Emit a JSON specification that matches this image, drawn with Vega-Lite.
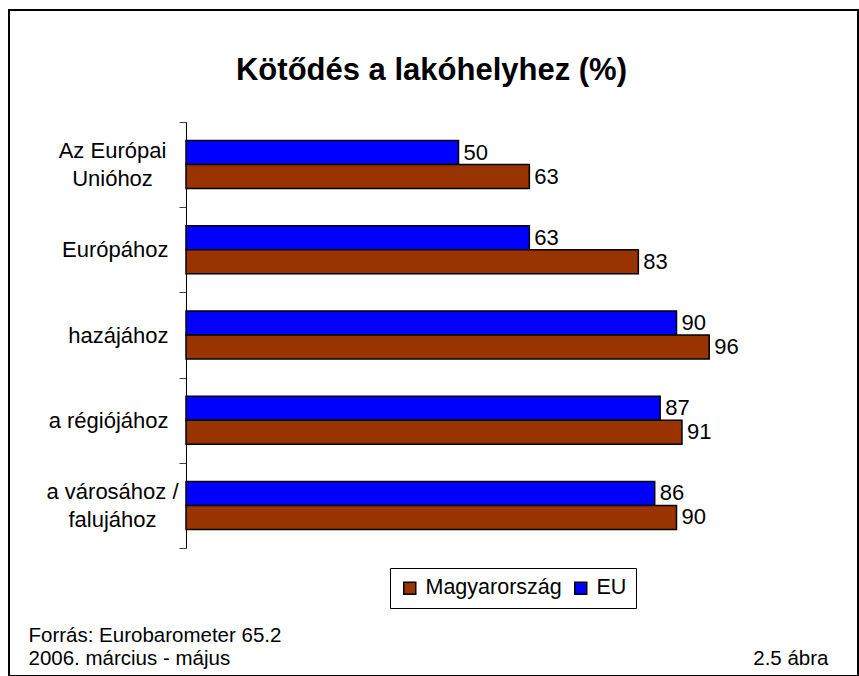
{
  "$schema": "https://vega.github.io/schema/vega-lite/v6.json",
  "width": 849,
  "height": 666,
  "autosize": "none",
  "padding": {"left": 9, "top": 10, "right": 1, "bottom": 0},
  "background": "white",
  "config": {
    "font": "Liberation Sans",
    "view": {"stroke": "black", "strokeWidth": 2}
  },
  "title": {
    "text": "Kötődés a lakóhelyhez (%)",
    "fontSize": 31,
    "fontWeight": "bold",
    "color": "black",
    "anchor": "middle",
    "frame": "group",
    "baseline": "alphabetic",
    "offset": 0,
    "dx": -2,
    "dy": 112
  },
  "data": {
    "values": [
      {"cat": "Az Európai|Unióhoz", "series": "EU", "value": 50},
      {"cat": "Az Európai|Unióhoz", "series": "Magyarország", "value": 63},
      {"cat": "Európához", "series": "EU", "value": 63},
      {"cat": "Európához", "series": "Magyarország", "value": 83},
      {"cat": "hazájához", "series": "EU", "value": 90},
      {"cat": "hazájához", "series": "Magyarország", "value": 96},
      {"cat": "a régiójához", "series": "EU", "value": 87},
      {"cat": "a régiójához", "series": "Magyarország", "value": 91},
      {"cat": "a városához /|falujához", "series": "EU", "value": 86},
      {"cat": "a városához /|falujához", "series": "Magyarország", "value": 90}
    ]
  },
  "encoding": {
    "y": {
      "field": "cat",
      "type": "nominal",
      "sort": ["Az Európai|Unióhoz", "Európához", "hazájához", "a régiójához", "a városához /|falujához"],
      "scale": {"range": [112, 538], "paddingInner": 0, "paddingOuter": 0},
      "axis": {
        "offset": -177,
        "tickBand": "extent",
        "tickSize": 7,
        "tickColor": "#404040",
        "domainColor": "black",
        "labelFontSize": 22,
        "labelColor": "black",
        "labelLineHeight": 28,
        "labelBaseline": "middle",
        "labelExpr": "isString(datum.value) ? split(datum.value, '|') : ''",
        "labelAlign": {"condition": {"test": "isString(datum.value) && indexof(datum.value, '|') >= 0", "value": "center"}, "value": "right"},
        "labelPadding": {"condition": {"test": "isString(datum.value) && indexof(datum.value, '|') >= 0", "value": 67}, "value": 11},
        "labelOffset": {"condition": {"test": "isString(datum.value) && indexof(datum.value, '|') >= 0", "value": -14}, "value": 0},
        "title": ["Forrás: Eurobarometer 65.2", "2006. március - május"],
        "titleAngle": 0,
        "titleAlign": "left",
        "titleBaseline": "alphabetic",
        "titleFontSize": 20.5,
        "titleFontWeight": "normal",
        "titleColor": "black",
        "titleLineHeight": 23,
        "titleX": -158,
        "titleY": 631
      }
    },
    "x": {
      "field": "value",
      "type": "quantitative",
      "scale": {"domain": [0, 100], "range": [177, 722], "nice": false},
      "axis": {
        "domain": false,
        "ticks": false,
        "labels": false,
        "grid": false,
        "title": "2.5 ábra",
        "titleAlign": "right",
        "titleBaseline": "alphabetic",
        "titleFontSize": 20.5,
        "titleFontWeight": "normal",
        "titleColor": "black",
        "titleX": 819,
        "titleY": -12
      }
    },
    "yOffset": {"field": "series", "type": "nominal", "sort": ["EU", "Magyarország"], "scale": {"paddingInner": 0, "paddingOuter": 0.775}}
  },
  "layer": [
    {
      "mark": {"type": "bar", "stroke": "black", "strokeWidth": 1.5},
      "encoding": {
        "color": {
          "field": "series",
          "type": "nominal",
          "scale": {"domain": ["Magyarország", "EU"], "range": ["#993300", "#0000FF"]},
          "legend": {
            "title": null,
            "orient": "none",
            "legendX": 381,
            "legendY": 558,
            "direction": "horizontal",
            "strokeColor": "black",
            "fillColor": "white",
            "padding": 9,
            "symbolType": "square",
            "symbolSize": 144,
            "symbolStrokeColor": "black",
            "symbolStrokeWidth": 1.5,
            "labelFontSize": 21.5,
            "labelColor": "black",
            "labelOffset": 5,
            "columnPadding": 8
          }
        }
      }
    },
    {
      "mark": {"type": "text", "align": "left", "baseline": "middle", "dx": 5, "fontSize": 22, "color": "black"},
      "encoding": {"text": {"field": "value", "type": "quantitative"}}
    }
  ]
}
